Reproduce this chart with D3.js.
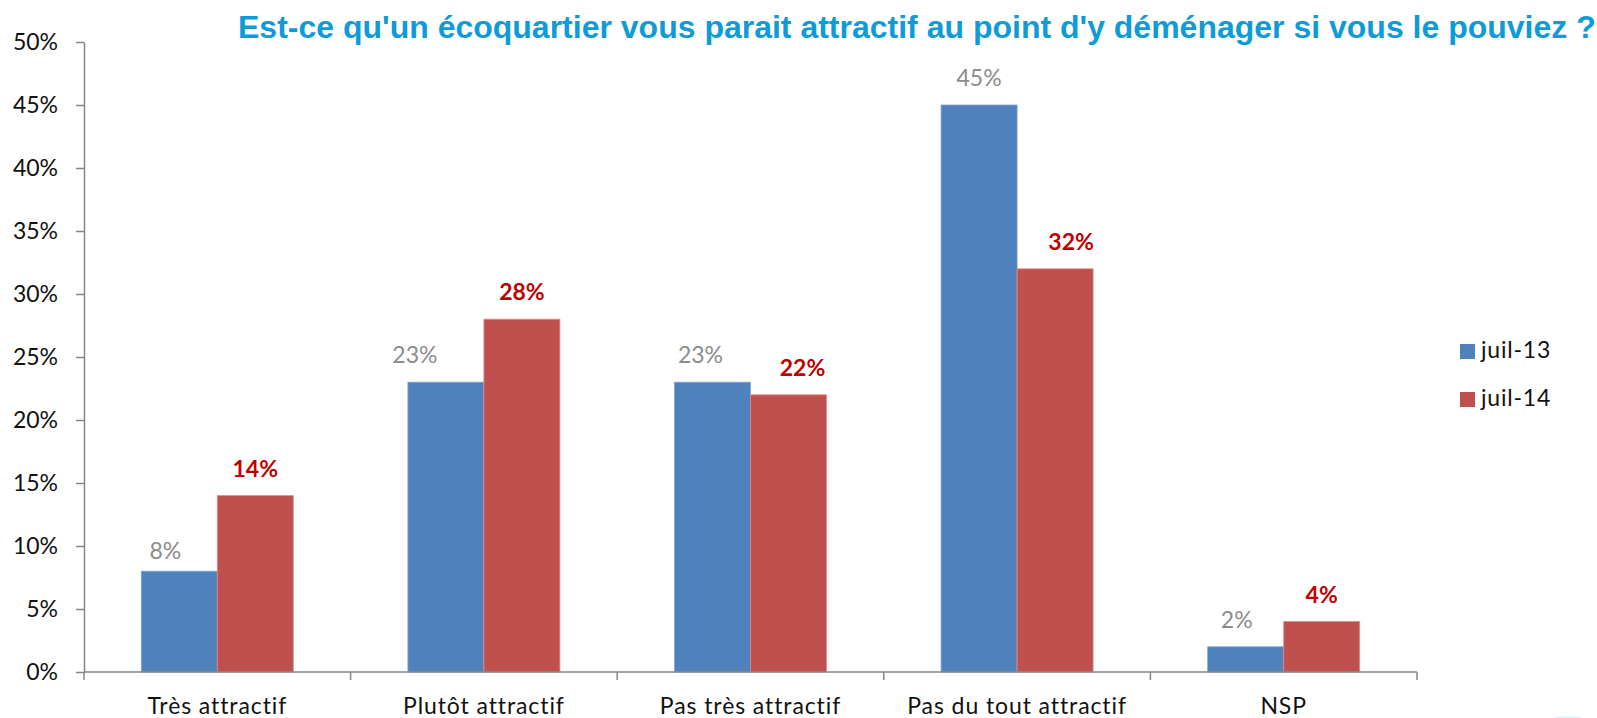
<!DOCTYPE html>
<html>
<head>
<meta charset="utf-8">
<script src="https://cdn.jsdelivr.net/npm/d3@7"></script>
<style>
  body { margin: 0; background: #fff; }
  svg { display: block; }
</style>
</head>
<body>
<script>
// Data
const categories = ["Très attractif", "Plutôt attractif", "Pas très attractif", "Pas du tout attractif", "NSP"];
const seriesNames = ["juil-13", "juil-14"];
const juil13 = [8, 23, 23, 45, 2];
const juil14 = [14, 28, 22, 32, 4];
const yTicks = [0, 5, 10, 15, 20, 25, 30, 35, 40, 45, 50];
const titleText = "Est-ce qu'un écoquartier vous parait attractif au point d'y déménager si vous le pouviez ?";

// small hand nudges of the data labels, as in the original slide
const labelNudge13 = [-14, -31, -12, 0, -9];
const labelNudge14 = [0, 0, 14, 16, 0];

const width = 1597;
const height = 718;
const colors = ["#4F81BD", "#C0504D"];
const axisColor = "#868686";
const font = "Lato, 'Open Sans', sans-serif";

const svg = d3.select("body").append("svg")
    .attr("width", width)
    .attr("height", height);

// faint decoration in the lower right corner
const deco = svg.append("g").attr("fill", "none").attr("stroke", "#d6eef5").attr("stroke-width", 1);
[70, 74, 78, 82, 86].forEach(r => {
    deco.append("path")
        .attr("d", d3.arc()({innerRadius: r, outerRadius: r, startAngle: -Math.PI * 0.42, endAngle: Math.PI * 0.5}))
        .attr("transform", `translate(${1585 - r * 0.2},${790 + r * 0.15})`)
        .attr("opacity", 0.8);
});

// Scales
const x0 = d3.scaleBand()
    .domain(categories)
    .range([84, 1417])
    .paddingInner(0)
    .paddingOuter(0);

const x1 = d3.scaleBand()
    .domain(seriesNames)
    .range([0, x0.bandwidth()])
    .paddingInner(0)
    .paddingOuter(0.754);

const y = d3.scaleLinear()
    .domain([0, 50])
    .range([672, 42]);

// Title
svg.append("text")
    .attr("x", 238)
    .attr("y", 37.5)
    .attr("font-family", "'Liberation Sans', Arial, sans-serif")
    .attr("font-weight", "bold")
    .attr("font-size", 32)
    .attr("fill", "#0E9BD8")
    .text(titleText);

// Y axis
const yAxis = svg.append("g")
    .attr("transform", "translate(84,0)")
    .call(d3.axisLeft(y)
        .tickValues(yTicks)
        .tickFormat(d => d + "%")
        .tickSize(8)
        .tickSizeOuter(0)
        .tickPadding(18));
yAxis.select(".domain").attr("stroke", axisColor).attr("stroke-width", 1.5);
yAxis.selectAll(".tick line").attr("stroke", axisColor).attr("stroke-width", 1.5);
yAxis.selectAll(".tick text")
    .attr("font-family", font)
    .attr("font-size", 23)
    .attr("fill", "#111");

// Bars
const rows = categories.map((c, i) => ({cat: c, vals: [juil13[i], juil14[i]]}));

const groups = svg.selectAll(".grp")
    .data(rows)
    .enter().append("g")
    .attr("class", "grp")
    .attr("transform", d => `translate(${x0(d.cat)},0)`);

groups.selectAll("rect")
    .data(d => d.vals.map((v, j) => ({name: seriesNames[j], v: v, j: j})))
    .enter().append("rect")
    .attr("x", d => x1(d.name))
    .attr("y", d => y(d.v))
    .attr("width", x1.bandwidth())
    .attr("height", d => y(0) - y(d.v))
    .attr("fill", d => colors[d.j])
    .attr("stroke", d => d.j === 0 ? "#7fa3d0" : "#e08c8a")
    .attr("stroke-width", 0.8);

// X axis (line + ticks at the category boundaries)
const xg = svg.append("g");
xg.append("line")
    .attr("x1", x0.range()[0]).attr("x2", x0.range()[1])
    .attr("y1", y(0)).attr("y2", y(0))
    .attr("stroke", axisColor).attr("stroke-width", 1.5);
const bounds = categories.map(c => x0(c)).concat([x0.range()[1]]);
xg.selectAll(".xt")
    .data(bounds)
    .enter().append("line")
    .attr("x1", d => d).attr("x2", d => d)
    .attr("y1", y(0)).attr("y2", y(0) + 8)
    .attr("stroke", axisColor).attr("stroke-width", 1.5);

xg.selectAll(".xl")
    .data(categories)
    .enter().append("text")
    .attr("x", d => x0(d) + x0.bandwidth() / 2)
    .attr("y", 714)
    .attr("text-anchor", "middle")
    .attr("font-family", font)
    .attr("font-size", 23)
    .attr("letter-spacing", 0.9)
    .attr("fill", "#111")
    .text(d => d);

// Data labels
groups.append("text")
    .attr("x", (d, i) => x1("juil-13") + x1.bandwidth() / 2 + labelNudge13[i])
    .attr("y", (d, i) => y(d.vals[0]) - (i === 0 ? 12 : 19))
    .attr("text-anchor", "middle")
    .attr("font-family", font)
    .attr("font-size", 23)
    .attr("fill", "#8C8C8C")
    .text(d => d.vals[0] + "%");

groups.append("text")
    .attr("x", (d, i) => x1("juil-14") + x1.bandwidth() / 2 + labelNudge14[i])
    .attr("y", d => y(d.vals[1]) - 19)
    .attr("text-anchor", "middle")
    .attr("font-family", font)
    .attr("font-weight", "bold")
    .attr("font-size", 23)
    .attr("fill", "#C00000")
    .text(d => d.vals[1] + "%");

// Legend
const legend = svg.append("g").attr("transform", "translate(1460,344)");
const li = legend.selectAll(".li")
    .data(seriesNames)
    .enter().append("g")
    .attr("transform", (d, i) => `translate(0,${i * 48})`);
li.append("rect")
    .attr("width", 15).attr("height", 15)
    .attr("fill", (d, i) => colors[i]);
li.append("text")
    .attr("x", 21)
    .attr("y", 14)
    .attr("font-family", font)
    .attr("font-size", 23)
    .attr("letter-spacing", 0.8)
    .attr("fill", "#111")
    .text(d => d);
</script>
</body>
</html>
